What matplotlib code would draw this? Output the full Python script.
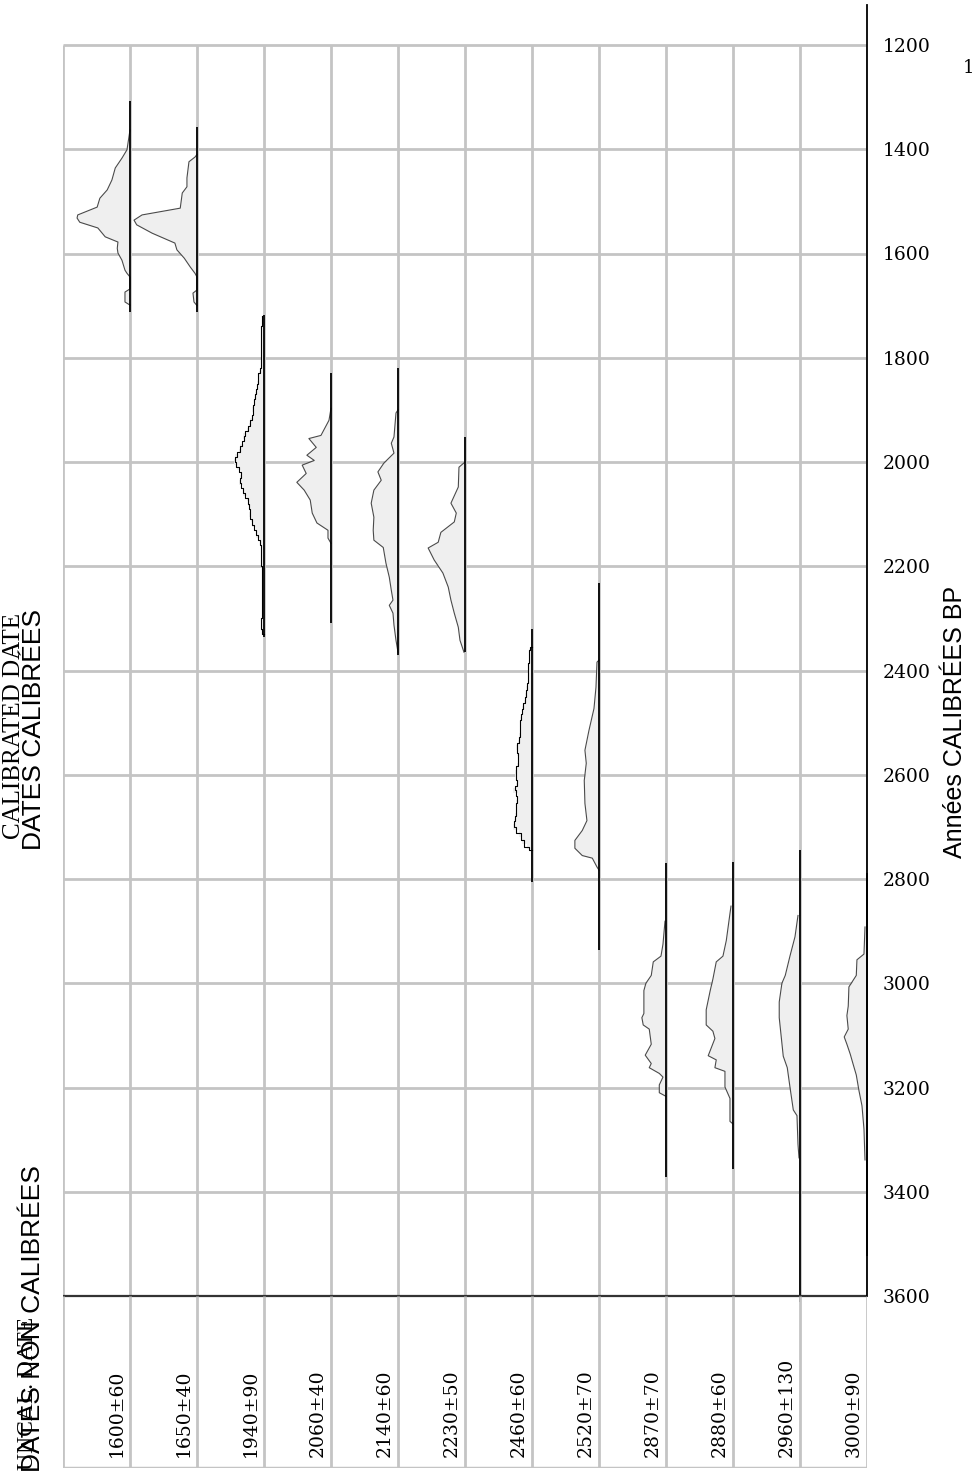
import matplotlib
matplotlib.use("Agg")
import matplotlib.pyplot as plt

# Uncalibrated radiocarbon dates (one column each)
dates = ["1600±60", "1650±40", "1940±90", "2060±40", "2140±60", "2230±50",
         "2460±60", "2520±70", "2870±70", "2880±60", "2960±130", "3000±90"]

# Extent of the calibration range line for each date (cal. years BP)
range_start = [1307, 1357, 1718, 1830, 1820, 1952, 2321, 2232, 2770, 2767, 2745, 2789]
range_end = [1712, 1712, 2336, 2309, 2371, 2365, 2806, 2937, 3372, 3357, 3612, 3523]

# Calibrated probability profiles: years BP and relative density (column widths)
yr_1600 = [1363, 1401, 1417, 1436, 1459, 1478, 1494, 1511, 1526, 1532, 1540, 1551, 1568,
           1578, 1590, 1599, 1613, 1632, 1638, 1645, 1668, 1674, 1693, 1699]
p_1600 = [0, .045, .12, .22, .27, .34, .45, .49, .78, .79, .75, .48, .37,
          .18, .19, .18, .12, .075, .045, 0, 0, .075, .075, 0]

yr_1650 = [1410, 1415, 1424, 1455, 1472, 1484, 1513, 1526, 1536, 1545, 1561, 1580, 1593,
           1609, 1626, 1638, 1645, 1670, 1676, 1693, 1700]
p_1650 = [0, .03, .12, .15, .15, .22, .25, .82, .94, .90, .67, .33, .30,
          .19, .10, .03, 0, 0, .06, .045, 0]

yr_1940 = [1720, 1740, 1760, 1780, 1800, 1820,
           1830, 1840, 1850, 1860, 1870, 1880, 1890, 1900, 1910, 1920, 1930, 1940, 1950,
           1960, 1970, 1980, 1990, 2000, 2010, 2020, 2030, 2040, 2050, 2060, 2070, 2080,
           2090, 2100, 2110, 2120, 2130, 2140, 2150, 2160,
           2200, 2250, 2300, 2320, 2330]
p_1940 = [.03, .03, .045, .03, .045, .045,
          .075, .09, .10, .10, .13, .15, .15, .18, .16, .21, .22, .25, .31,
          .30, .36, .37, .43, .45, .40, .34, .36, .37, .31, .31, .25, .24,
          .21, .22, .19, .18, .12, .12, .06, .045,
          .03, .03, .03, .045, 0]

yr_2060 = [1897, 1920, 1949, 1955, 1972, 1987, 1997, 2006, 2022, 2039, 2054, 2073, 2098,
           2117, 2131, 2146, 2156]
p_2060 = [0, .03, .15, .33, .22, .36, .25, .43, .37, .51, .40, .31, .28,
          .21, .045, .045, 0]

yr_2140 = [1900, 1906, 1952, 1964, 1983, 2002, 2019, 2035, 2054, 2079, 2106, 2131, 2150,
           2164, 2194, 2221, 2246, 2265, 2275, 2290, 2313, 2342, 2365]
p_2140 = [0, .03, .06, .10, .06, .21, .30, .25, .36, .40, .36, .37, .36,
          .22, .18, .13, .10, .075, .13, .075, .06, .03, 0]

yr_2230 = [2000, 2010, 2048, 2079, 2098, 2115, 2135, 2154, 2165, 2188, 2213, 2240, 2265,
           2290, 2317, 2342, 2365]
p_2230 = [0, .09, .10, .21, .13, .16, .36, .40, .55, .46, .33, .25, .21,
          .16, .10, .075, .015]

yr_2460 = [2355, 2361, 2375, 2386, 2400, 2412, 2424, 2437, 2451, 2462, 2473, 2484, 2495,
           2510, 2528, 2540, 2547, 2559, 2570, 2584, 2597, 2611, 2622, 2630, 2640, 2655,
           2668, 2680, 2688, 2700, 2712, 2725, 2739, 2745]
p_2460 = [0, .045, .045, .045, .06, .045, .06, .09, .10, .12, .15, .15, .18,
          .18, .19, .21, .24, .22, .21, .22, .25, .22, .24, .28, .21, .24,
          .24, .25, .27, .28, .19, .15, .075, 0]

yr_2520 = [2380, 2384, 2432, 2473, 2515, 2553, 2578, 2611, 2655, 2688, 2707, 2726, 2741,
           2755, 2760, 2777, 2783]
p_2520 = [0, .03, .045, .075, .15, .21, .19, .22, .21, .18, .25, .36, .36,
          .25, .10, .03, 0]

yr_2870 = [2881, 2925, 2948, 2959, 2985, 3000, 3014, 3058, 3066, 3080, 3088, 3117, 3138,
           3154, 3162, 3173, 3180, 3195, 3210, 3217]
p_2870 = [.015, .045, .075, .19, .22, .30, .33, .33, .36, .34, .25, .22, .31,
          .22, .25, .10, .045, .10, .10, 0]

yr_2880 = [2852, 2866, 2918, 2948, 2959, 2992, 3014, 3051, 3080, 3092, 3106, 3139, 3147,
           3162, 3169, 3199, 3221, 3265, 3270]
p_2880 = [.03, .045, .10, .15, .25, .30, .34, .40, .40, .30, .27, .37, .25,
          .27, .12, .12, .045, .045, 0]

yr_2960 = [2870, 2911, 2948, 2985, 3000, 3036, 3066, 3103, 3140, 3162, 3199, 3243, 3254,
           3309, 3335]
p_2960 = [.03, .075, .15, .22, .27, .31, .31, .28, .25, .19, .15, .10, .045, .03, .015]

yr_3000 = [2892, 2944, 2955, 2985, 3007, 3044, 3062, 3088, 3103, 3117, 3136, 3154, 3176,
           3206, 3235, 3280, 3339]
p_3000 = [.03, .045, .15, .16, .27, .28, .30, .28, .34, .30, .25, .21, .16,
          .12, .075, .045, .03]

profiles = [(yr_1600, p_1600), (yr_1650, p_1650), (yr_1940, p_1940), (yr_2060, p_2060),
            (yr_2140, p_2140), (yr_2230, p_2230), (yr_2460, p_2460), (yr_2520, p_2520),
            (yr_2870, p_2870), (yr_2880, p_2880), (yr_2960, p_2960), (yr_3000, p_3000)]
stepped = [False, False, True, False, False, False, True, False, False, False, False, False]

year_ticks = [1200, 1400, 1600, 1800, 2000, 2200, 2400, 2600, 2800, 3000, 3200, 3400, 3600]

W, H = 975, 1480
fig = plt.figure(figsize=(W / 100, H / 100), dpi=100)

GRID = "#c4c4c4"
left_px, right_px = 63, 867
top_px, base_px, bottom_px = 5, 1296, 1468
px_per_year = (base_px - 45) / 2400.0
y_top_year = 1200 - (45 - top_px) / px_per_year

ax = fig.add_axes([left_px / W, (H - base_px) / H, (right_px - left_px) / W,
                   (base_px - top_px) / H])
n = len(dates)
ax.set_xlim(0, n)
ax.set_ylim(3600, y_top_year)
for s in ("top", "left", "bottom"):
    ax.spines[s].set_visible(False)
ax.spines["right"].set_linewidth(1.3)
ax.spines["right"].set_color("black")
ax.spines["right"].set_zorder(6)
ax.set_xticks([])
ax.yaxis.tick_right()
ax.set_yticks(year_ticks)
ax.set_yticklabels([str(t) for t in year_ticks], family="DejaVu Serif", fontsize=13.5)
ax.tick_params(axis="y", length=0, pad=11)

# grid
ax.vlines(range(n + 1), 1200, 3600, color=GRID, lw=2, zorder=1)
ax.hlines(year_ticks[:-1], 0, n, color=GRID, lw=2, zorder=1)
ax.hlines(3600, 0, n, color="#333333", lw=1.6, zorder=5, clip_on=False)

# calibrated distributions, drawn leftwards from each column's right edge
for i, ((yrs, dens), a, b) in enumerate(zip(profiles, range_start, range_end)):
    base = i + 1
    xs = [base - d for d in dens]
    if stepped[i]:
        ax.fill_betweenx(yrs, xs, base, color="#efefef", step="mid", zorder=2, lw=0)
        ax.step(xs, yrs, where="mid", color="black", lw=0.8, zorder=3)
    else:
        ax.fill_betweenx(yrs, xs, base, color="#efefef", zorder=2, lw=0)
        ax.plot(xs, yrs, color="#4a4a4a", lw=0.8, zorder=3)
    ax.vlines(base, a, b, color="black", lw=1.3, zorder=4, clip_on=False)

# lower panel with the uncalibrated dates
lax = fig.add_axes([left_px / W, (H - bottom_px) / H, (right_px - left_px) / W,
                    (bottom_px - base_px) / H])
lax.set_xlim(0, n)
lax.set_ylim(0, 1)
lax.axis("off")
lax.vlines(range(n + 1), 0, 1, color=GRID, lw=2)
lax.hlines(0, 0, n, color=GRID, lw=2.5)
for i, lab in enumerate(dates):
    lax.text(i + 1 - 0.2, 0.065, lab, rotation=90, ha="center", va="bottom",
             family="DejaVu Serif", fontsize=13.5)

# axis titles
fig.text(955 / W, 1 - 722 / H, "Années CALIBRÉES BP", rotation=90, ha="center",
         va="center", family="Liberation Sans", fontsize=18)
fig.text(14 / W, 1 - 726 / H, "CALIBRATED DATE", rotation=90, ha="center",
         va="center", family="Liberation Serif", fontsize=18)
fig.text(34 / W, 1 - 730 / H, "DATES CALIBRÉES", rotation=90, ha="center",
         va="center", family="Liberation Sans", fontsize=19)
fig.text(28 / W, 1 - 1470 / H, "UNCAL. DATE", rotation=90, ha="center",
         va="bottom", family="Liberation Serif", fontsize=17)
fig.text(33 / W, 1 - 1472 / H, "DATES NON CALIBRÉES", rotation=90, ha="center",
         va="bottom", family="Liberation Sans", fontsize=19)
fig.text(963 / W, 1 - 68 / H, "1", ha="left", va="center",
         family="DejaVu Serif", fontsize=13)

fig.savefig("out.png", dpi=100, facecolor="white")
